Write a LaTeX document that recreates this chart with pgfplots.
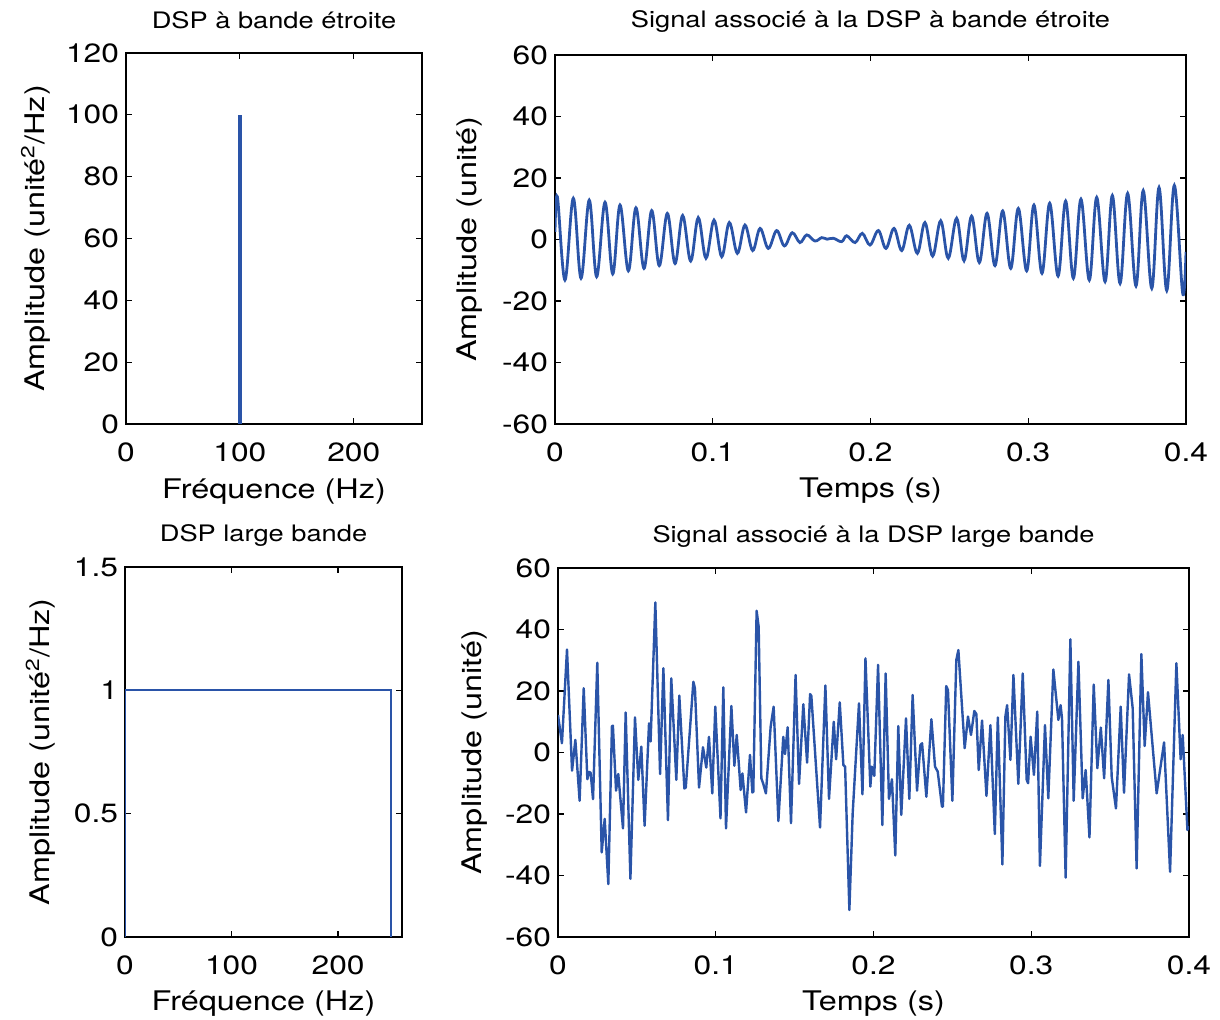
\documentclass[border=0pt]{standalone}
\usepackage{fontspec}
\setmainfont{TeX Gyre Heros}[FakeStretch=1.2]
\usepackage{pgfplots}
\pgfplotsset{compat=1.18}
\definecolor{mblue}{RGB}{42,84,168}
\pgfplotsset{
  mstyle/.style={
    scale only axis,
    axis line style={black, line width=0.7pt},
    tick align=inside,
    major tick length=3pt,
    every tick/.style={black, line width=0.6pt},
    tick label style={font=\fontsize{13.2}{15}\selectfont},
    xticklabel style={yshift=-6pt},
    label style={font=\fontsize{13.5}{16}\selectfont},
    title style={font=\fontsize{11.35}{14}\selectfont, anchor=center},
    xlabel style={anchor=center},
    ylabel style={anchor=center, rotate=0},
    clip=true,
  }
}
\begin{document}
\begin{tikzpicture}
\useasboundingbox (0,0) rectangle (610pt,510pt);
% ---------- top-left ----------
\begin{axis}[mstyle,
  at={(63pt,298pt)}, anchor=south west,
  width=148pt, height=185.5pt,
  xmin=0, xmax=260, ymin=0, ymax=120,
  xtick={0,100,200}, xticklabels={0,100,200},
  ytick={0,20,40,60,80,100,120}, yticklabels={0,20,40,60,80,100,120},
  title={DSP à bande étroite},
  title style={at={(axis description cs:0.5,1.057)}},
  xlabel={Fréquence (Hz)},
  xlabel style={at={(axis description cs:0.5,-0.181)}},
  ylabel={Amplitude (unité\textsuperscript{2}/Hz)},
  ylabel style={at={(axis description cs:-0.305,0.5)}},
]
\addplot[mblue, line width=2pt] coordinates {(100,0) (100,100)};
\end{axis}
% ---------- top-right ----------
\begin{axis}[mstyle,
  at={(277.5pt,298pt)}, anchor=south west,
  width=315.5pt, height=184.5pt,
  xmin=0, xmax=0.4, ymin=-60, ymax=60,
  xtick={0,0.1,0.2,0.3,0.4}, xticklabels={0,0.1,0.2,0.3,0.4},
  ytick={-60,-40,-20,0,20,40,60}, yticklabels={-60,-40,-20,0,20,40,60},
  title={Signal associé à la DSP à bande étroite},
  title style={at={(axis description cs:0.5,1.057)}},
  xlabel={Temps (s)},
  xlabel style={at={(axis description cs:0.5,-0.181)}},
  ylabel={Amplitude (unité)},
  ylabel style={at={(axis description cs:-0.135,0.5)}},
]
\addplot[mblue, line width=1.4pt, smooth, tension=0.6] coordinates {
(0,2.5) (0.0015,13.9) (0.0063,-13.2) (0.0116,13.4) (0.0165,-12.6) (0.0217,12.8)
(0.0264,-12.1) (0.0317,12.1) (0.0366,-11.2) (0.0412,11.2) (0.0465,-10.2) (0.0513,10.3)
(0.0564,-9.4) (0.0613,9.4) (0.0661,-8.5) (0.0712,8.5) (0.0761,-7.8) (0.0809,7.8)
(0.0860,-7.0) (0.0908,7.1) (0.0957,-6.1) (0.1008,6.3) (0.1057,-5.6) (0.1105,5.5)
(0.1156,-4.5) (0.1204,4.7) (0.1253,-3.6) (0.1300,3.6) (0.1352,-2.9) (0.1405,2.9)
(0.1454,-2.1) (0.1504,2.2) (0.1553,-1.0) (0.1596,1.5) (0.1648,-0.5) (0.1691,0.6)
(0.1725,0.1) (0.1765,0.4) (0.1817,-0.7) (0.1849,1.2) (0.1902,-1.0) (0.1948,2.0)
(0.1997,-1.8) (0.2050,2.9) (0.2098,-2.9) (0.2149,3.6) (0.2198,-3.6) (0.2246,4.6)
(0.2297,-4.5) (0.2345,5.5) (0.2394,-5.4) (0.2445,6.1) (0.2493,-6.1) (0.2546,6.9)
(0.2593,-6.9) (0.2641,7.6) (0.2690,-7.5) (0.2739,8.5) (0.2789,-8.5) (0.2838,9.3)
(0.2889,-9.4) (0.2937,10.1) (0.2990,-10.2) (0.3036,11.2) (0.3087,-11.0) (0.3136,11.8)
(0.3189,-11.9) (0.3237,12.5) (0.3286,-12.6) (0.3334,13.1) (0.3387,-13.2) (0.3434,13.7)
(0.3487,-13.7) (0.3533,14.3) (0.3582,-14.3) (0.3630,15.0) (0.3683,-15.1) (0.3729,15.9)
(0.3783,-15.9) (0.3829,16.9) (0.3878,-16.6) (0.3926,17.6) (0.3979,-17.5) (0.4,-4)
};
\end{axis}
% ---------- bottom-left ----------
\begin{axis}[mstyle,
  at={(62.5pt,41.5pt)}, anchor=south west,
  width=138.5pt, height=185pt,
  xmin=0, xmax=260, ymin=0, ymax=1.5,
  xtick={0,100,200}, xticklabels={0,100,200},
  ytick={0,0.5,1,1.5}, yticklabels={0,0.5,1,1.5},
  title={DSP large bande},
  title style={at={(axis description cs:0.5,1.054)}},
  xlabel={Fréquence (Hz)},
  xlabel style={at={(axis description cs:0.5,-0.181)}},
  ylabel={Amplitude (unité\textsuperscript{2}/Hz)},
  ylabel style={at={(axis description cs:-0.305,0.5)}},
]
\addplot[mblue, line width=1.1pt] coordinates {(0,0) (0,1) (250,1) (250,0)};
\end{axis}
% ---------- bottom-right ----------
\begin{axis}[mstyle,
  at={(279pt,41.5pt)}, anchor=south west,
  width=315.5pt, height=184.5pt,
  xmin=0, xmax=0.4, ymin=-60, ymax=60,
  xtick={0,0.1,0.2,0.3,0.4}, xticklabels={0,0.1,0.2,0.3,0.4},
  ytick={-60,-40,-20,0,20,40,60}, yticklabels={-60,-40,-20,0,20,40,60},
  title={Signal associé à la DSP large bande},
  title style={at={(axis description cs:0.5,1.054)}},
  xlabel={Temps (s)},
  xlabel style={at={(axis description cs:0.5,-0.181)}},
  ylabel={Amplitude (unité)},
  ylabel style={at={(axis description cs:-0.1315,0.5)}},
]
\addplot[mblue, line width=1.2pt, line join=round] coordinates {
(0,12.2) (0.0025,3.0) (0.0057,33.5) (0.0089,-5.9) (0.0110,4.1) (0.0137,-15.7)
(0.0163,20.9) (0.0186,-8.7) (0.0197,-6.3) (0.0207,-6.6) (0.0222,-15.2) (0.0249,29.2)
(0.0277,-32.5) (0.0296,-21.6) (0.0319,-42.8) (0.0342,8.6) (0.0348,8.7) (0.0368,-12.4)
(0.0382,-7.0) (0.0412,-24.7) (0.0429,13.0) (0.0459,-41.1) (0.0488,11.4) (0.0509,-8.9)
(0.0528,1.9) (0.0549,-23.8) (0.0577,9.5) (0.0587,3.6) (0.0617,48.8) (0.0647,-7.0)
(0.0668,27.4) (0.0697,-22.0) (0.0718,24.1) (0.0750,-8.9) (0.0769,18.5) (0.0801,-11.7)
(0.0810,-11.4) (0.0858,23.0) (0.0868,20.9) (0.0894,-11.4) (0.0919,1.7) (0.0940,-4.9)
(0.0957,5.1) (0.0978,-13.3) (0.0997,14.9) (0.1030,-21.4) (0.1048,21.2) (0.1065,-24.7)
(0.1099,15.1) (0.1118,-4.3) (0.1133,5.7) (0.1158,-12.2) (0.1169,-6.8) (0.1192,-19.5)
(0.1217,-0.8) (0.1232,-13.0) (0.1238,-12.8) (0.1259,46.1) (0.1272,40.9) (0.1289,-8.4)
(0.1300,-10.0) (0.1318,-13.3) (0.1348,8.4) (0.1367,14.9) (0.1397,-22.3) (0.1428,5.1)
(0.1439,-0.5) (0.1456,8.2) (0.1477,-23.0) (0.1506,25.2) (0.1528,-10.2) (0.1555,15.7)
(0.1579,-3.3) (0.1598,19.0) (0.1606,18.4) (0.1661,-24.4) (0.1695,21.8) (0.1718,-15.1)
(0.1748,10.0) (0.1763,-2.2) (0.1786,16.3) (0.1809,-4.1) (0.1820,-4.6) (0.1847,-51.2)
(0.1868,-19.8) (0.1908,16.0) (0.1930,-13.6) (0.1949,30.6) (0.1980,-11.1) (0.1989,-4.6)
(0.2005,-7.6) (0.2029,28.5) (0.2056,-23.6) (0.2077,25.7) (0.2098,-15.1) (0.2117,-8.7)
(0.2138,-33.5) (0.2157,8.6) (0.2176,-20.3) (0.2206,11.1) (0.2227,-15.1) (0.2248,18.7)
(0.2276,-12.4) (0.2297,2.4) (0.2308,3.0) (0.2335,-14.4) (0.2367,10.8) (0.2390,-4.6)
(0.2407,-6.2) (0.2434,-17.6) (0.2440,-17.6) (0.2461,21.6) (0.2472,20.3) (0.2500,-15.7)
(0.2525,30.1) (0.2538,33.3) (0.2578,1.4) (0.2599,11.7) (0.2618,5.7) (0.2639,13.5)
(0.2652,12.5) (0.2667,-5.7) (0.2688,10.4) (0.2716,-14.1) (0.2741,8.9) (0.2769,-26.5)
(0.2788,11.4) (0.2817,-36.4) (0.2836,11.7) (0.2847,15.4) (0.2868,-2.4) (0.2887,25.2)
(0.2918,-10.2) (0.2946,25.7) (0.2971,-8.9) (0.2980,-10.0) (0.2996,5.1) (0.3017,-7.3)
(0.3038,13.3) (0.3055,-36.9) (0.3087,8.9) (0.3108,-14.9) (0.3140,27.0) (0.3172,10.6)
(0.3186,15.4) (0.3195,11.0) (0.3218,-40.7) (0.3248,36.8) (0.3269,-15.7) (0.3299,29.5)
(0.3326,-14.9) (0.3345,-5.7) (0.3369,-27.6) (0.3396,22.1) (0.3419,-5.1) (0.3441,8.1)
(0.3462,-8.4) (0.3489,23.6) (0.3510,-8.0) (0.3537,-18.2) (0.3567,14.9) (0.3588,-13.1)
(0.3620,25.4) (0.3643,14.4) (0.3668,-37.7) (0.3698,32.0) (0.3719,2.1) (0.3740,19.6)
(0.3795,-13.3) (0.3842,3.3) (0.3880,-38.8) (0.3920,29.0) (0.3947,-2.2) (0.3960,5.7)
(0.3990,-25.2) (0.4,-24)
};
\end{axis}
\end{tikzpicture}
\end{document}
